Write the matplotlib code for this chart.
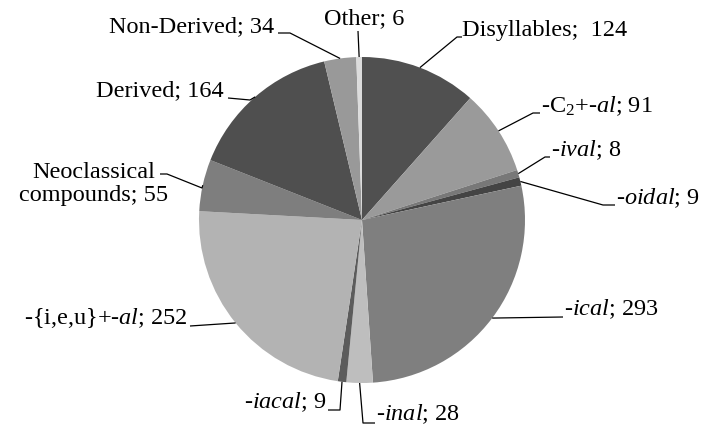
import numpy as np
import matplotlib
matplotlib.use("Agg")
import matplotlib.pyplot as plt
from matplotlib import font_manager

labels = ["Disyllables", "-C$_2$+-$\\it{al}$", "-$\\it{ival}$", "-$\\it{oidal}$", "-$\\it{ical}$",
          "-$\\it{inal}$", "-$\\it{iacal}$", "-{i,e,u}+-$\\it{al}$", "Neoclassical\ncompounds",
          "Derived", "Non-Derived", "Other"]
values = [124, 91, 8, 9, 293, 28, 9, 252, 55, 164, 34, 6]
colors = ["#505050", "#9a9a9a", "#787878", "#444444", "#7f7f7f", "#bebebe", "#5c5c5c",
          "#b3b3b3", "#7e7e7e", "#4f4f4f", "#999999", "#dcdcdc"]

plt.rcParams['font.family'] = 'serif'
plt.rcParams['font.serif'] = ['Liberation Serif', 'DejaVu Serif']
plt.rcParams['mathtext.fontset'] = 'custom'
plt.rcParams['mathtext.rm'] = 'Liberation Serif'
plt.rcParams['mathtext.it'] = 'Liberation Serif:italic'

W, H = 707, 425
fig = plt.figure(figsize=(W / 100, H / 100), dpi=100)
ax = fig.add_axes([0, 0, 1, 1])

cx, cy, R = 362, H - 220, 163
wedges, _ = ax.pie(values, colors=colors, startangle=90, counterclock=False,
                   center=(cx, cy), radius=R, frame=True,
                   wedgeprops=dict(linewidth=0))
ax.set_xlim(0, W)
ax.set_ylim(0, H)
ax.axis('off')

def img(x, y):
    return (x, H - y)

layout = [
    ((462, 30), 'left', [(457, 37), (462, 37)]),
    ((541, 106), 'left', [(533, 113), (540, 113)]),
    ((551, 150), 'left', [(545, 157), (550, 157)]),
    ((616, 198), 'left', [(603, 205), (615, 205)]),
    ((564, 309), 'left', [(563, 317)]),
    ((376, 414), 'left', [(363, 423), (375, 423)]),
    ((326, 402), 'right', [(340, 410), (328, 410)]),
    ((188, 318), 'right', [(190, 326)]),
    ((94, 184), 'center', [(202, 188), (167, 174), (160, 174)]),
    ((224, 91), 'right', [(250, 100), (228, 98)]),
    ((274, 27), 'right', [(290, 33), (278, 33)]),
    ((364, 19), 'center', [(358, 31)]),
]

fp = font_manager.FontProperties(family='Liberation Serif', size=17.5)

for w, lab, v, (tpos, ha, elbows) in zip(wedges, labels, values, layout):
    mid = np.deg2rad((w.theta1 + w.theta2) / 2)
    ax_x = cx + R * np.cos(mid)
    ax_y = cy + R * np.sin(mid)
    pts = [(ax_x, ax_y)] + [img(*p) for p in elbows]
    xs, ys = zip(*pts)
    ax.plot(xs, ys, color='black', lw=0.9, solid_capstyle='butt')
    if lab.startswith("Neoclassical"):
        text = "Neoclassical\ncompounds; %d" % v
    elif lab == "Disyllables":
        text = "%s;  %d" % (lab, v)
    else:
        text = "%s; %d" % (lab, v)
    tx, ty = img(*tpos)
    ax.text(tx, ty, text, ha=ha, va='center', fontproperties=fp, color='black',
            linespacing=1.15, multialignment='center')

fig.savefig("out.png", dpi=100, facecolor='white')
